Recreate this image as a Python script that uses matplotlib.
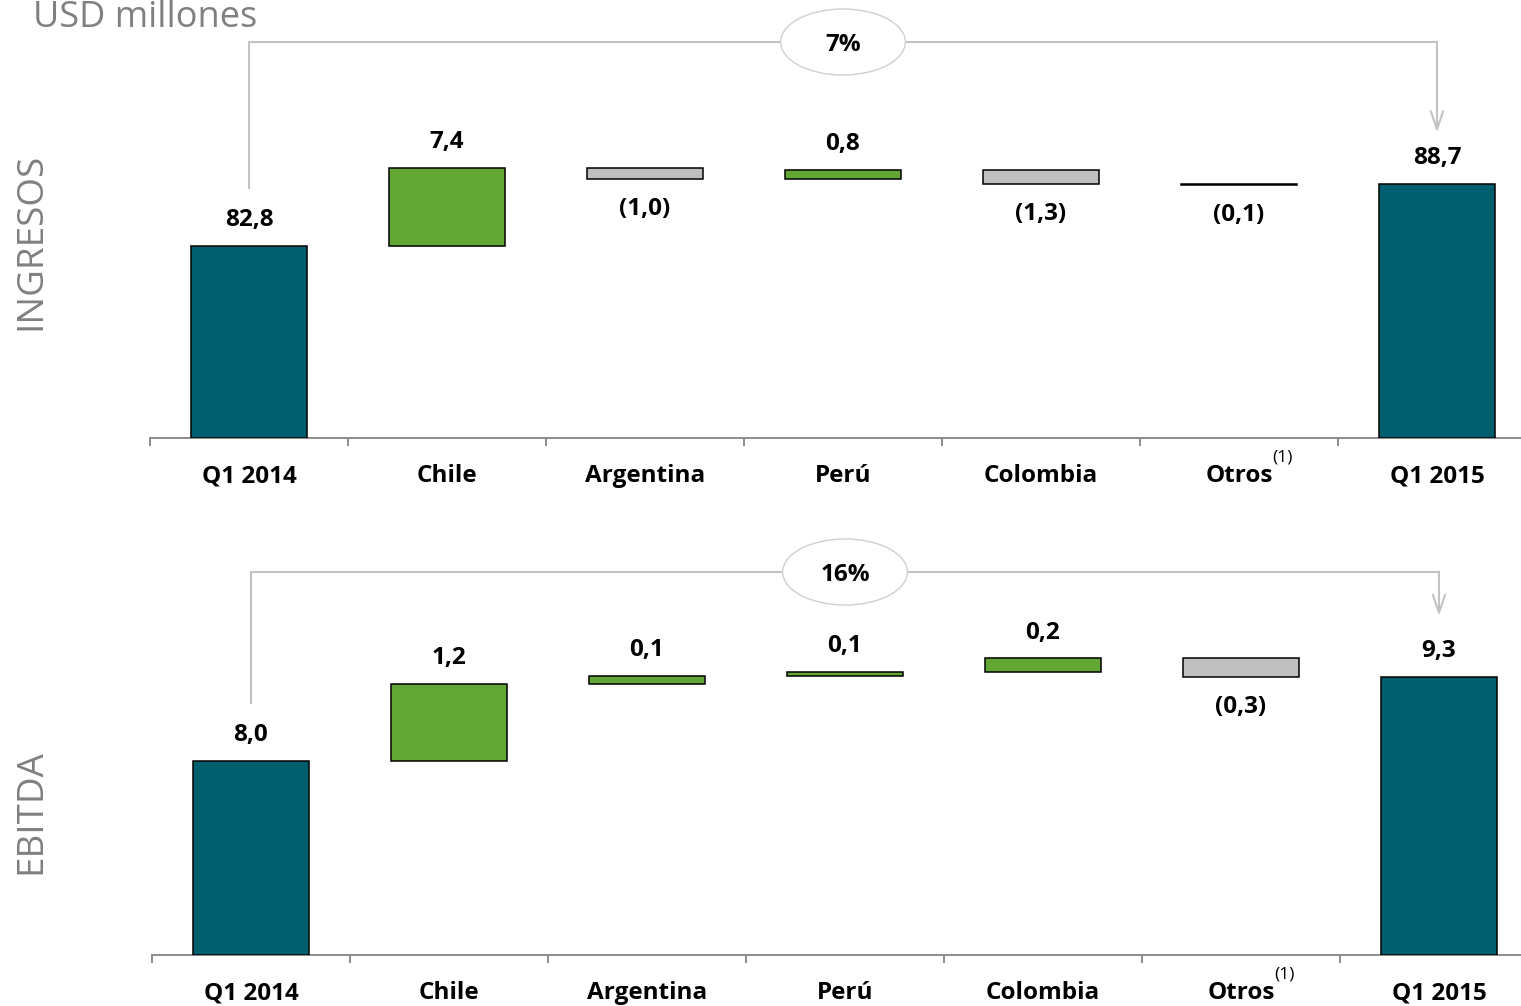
import numpy as np
import matplotlib
matplotlib.use('Agg')
import matplotlib.pyplot as plt
from matplotlib.patches import Ellipse

plt.rcParams['font.family'] = ['Open Sans', 'DejaVu Sans']

# data
categories = ['Q1 2014', 'Chile', 'Argentina', 'Perú', 'Colombia', 'Otros', 'Q1 2015']

ing_start = 82.8
ing_deltas = [7.4, -1.0, 0.8, -1.3, -0.1]
ing_end = 88.7
ing_pct = '7%'

ebit_start = 8.0
ebit_deltas = [1.2, 0.12, 0.06, 0.21, -0.29]
ebit_end = 9.3
ebit_pct = '16%'

teal = '#005f6e'
green = '#62a734'
grey = '#bfbfbf'
axgrey = '#8c8c8c'
linegrey = '#c3c3c3'

W, H = 1521, 1006
fig = plt.figure(figsize=(W / 100, H / 100), dpi=100)
FS = 17.5


def fmt(v):
    s = '{0:.1f}'.format(abs(v)).replace('.', ',')
    return '({})'.format(s) if v < 0 else s


def waterfall(rect, start, deltas, end, ylo, yhi, pct, brk_y, left_drop, right_tip):
    ax = fig.add_axes(rect)
    x = np.arange(len(categories))
    bw = 0.59
    # totals
    for xi, v in ((0, start), (len(categories) - 1, end)):
        ax.bar(xi, v - ylo, bottom=ylo, width=bw, color=teal, edgecolor='black', lw=1.1, zorder=3)
        ax.annotate(fmt(v), (xi, v), xytext=(0, 10), textcoords='offset points',
                    ha='center', va='bottom', fontsize=FS, fontweight='bold')
    run = start
    for i, d in enumerate(deltas):
        xi = i + 1
        c = green if d > 0 else grey
        ax.bar(xi, d, bottom=run, width=bw, color=c, edgecolor='black', lw=1.1, zorder=3)
        if d > 0:
            ax.annotate(fmt(d), (xi, run + d), xytext=(0, 10), textcoords='offset points',
                        ha='center', va='bottom', fontsize=FS, fontweight='bold')
        else:
            ax.annotate(fmt(d), (xi, run + d), xytext=(0, -13), textcoords='offset points',
                        ha='center', va='top', fontsize=FS, fontweight='bold')
        run += d

    ax.set_xlim(-0.5, len(categories) - 0.5)
    ax.set_ylim(ylo, yhi)
    for s in ('top', 'right', 'left'):
        ax.spines[s].set_visible(False)
    ax.spines['bottom'].set_color(axgrey)
    ax.spines['bottom'].set_linewidth(1.4)
    ax.set_yticks([])
    ax.set_xticks(x)
    ax.set_xticklabels(categories, fontsize=FS, fontweight='bold')
    ax.tick_params(axis='x', which='major', length=0, pad=19)
    ax.set_xticks(np.arange(-0.5, len(categories) - 0.5, 1.0), minor=True)
    ax.tick_params(axis='x', which='minor', length=6, width=1.4, color=axgrey, direction='out')
    ax.text(5.22, -0.045, '(1)', transform=ax.get_xaxis_transform(), fontsize=12.5,
            ha='center', va='center')

    # bracket with growth
    yb = ylo + brk_y * (yhi - ylo)
    last = len(categories) - 1
    ax.plot([0, 0, last], [start + left_drop, yb, yb], color=linegrey, lw=1.5, clip_on=False, zorder=1)
    ax.annotate('', xy=(last, end + right_tip), xytext=(last, yb),
                arrowprops=dict(arrowstyle='->,head_length=1.3,head_width=0.45',
                                color=linegrey, lw=1.5, shrinkA=0, shrinkB=0),
                annotation_clip=False)
    eh = 66.0 / (rect[3] * H) * (yhi - ylo)
    ax.add_patch(Ellipse((3, yb), 0.63, eh, facecolor='white', edgecolor='#d0d0d0',
                         lw=1.0, clip_on=False, zorder=4))
    ax.text(3, yb, pct, ha='center', va='center_baseline', fontsize=FS, fontweight='bold', zorder=5)
    return ax


# top panel: ingresos
waterfall([150 / W, 1 - 438 / H, 1386 / W, 438 / H], ing_start, ing_deltas, ing_end,
          64.5, 64.5 + 438 / 10.5, ing_pct, 1 - 42 / 438, 5.5, 4.9)
# bottom panel: ebitda
waterfall([152 / W, 1 - 955 / H, 1386 / W, 435 / H], ebit_start, ebit_deltas, ebit_end,
          5.0, 5.0 + 435 / 64.6, ebit_pct, (955 - 572) / 435, 0.9, 0.95)

fig.text(33 / W, 1 - 27 / H, 'USD millones', fontsize=26, color='#808080', va='baseline', ha='left')
fig.text(31 / W, 1 - 241 / H, 'INGRESOS', fontsize=26.5, color='#808080', rotation=90,
         va='center', ha='center')
fig.text(31 / W, 1 - 812 / H, 'EBITDA', fontsize=26.5, color='#808080', rotation=90,
         va='center', ha='center')

fig.savefig('out.png', dpi=100)
